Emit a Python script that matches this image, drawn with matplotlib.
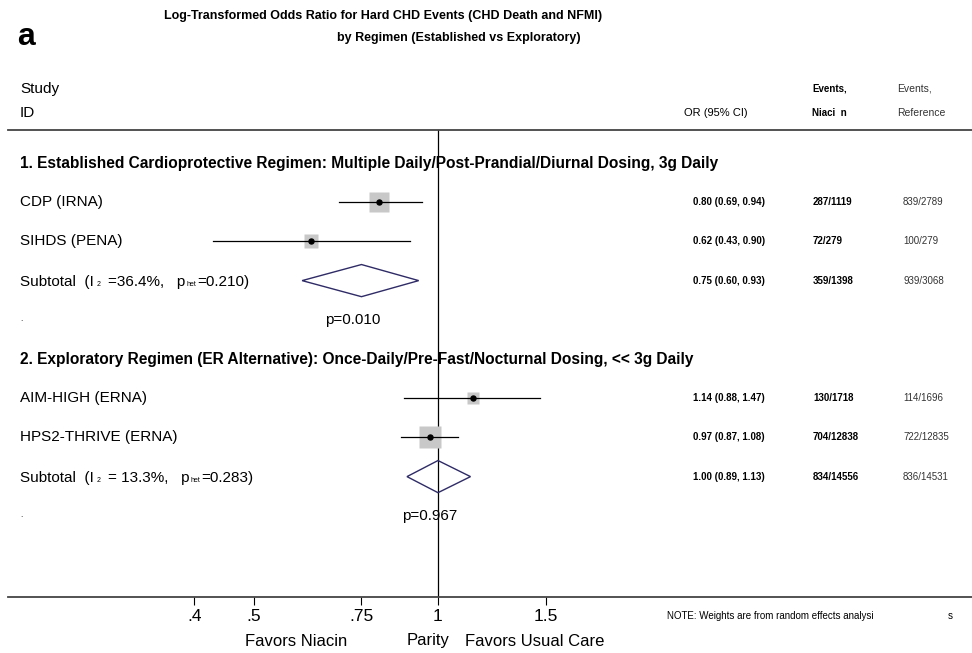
import matplotlib
matplotlib.use("Agg")
import matplotlib.pyplot as plt
from matplotlib import transforms, font_manager
from matplotlib.ticker import NullLocator

# --- data ---
groups = ["1. Established Cardioprotective Regimen: Multiple Daily/Post-Prandial/Diurnal Dosing, 3g Daily",
          "2. Exploratory Regimen (ER Alternative): Once-Daily/Pre-Fast/Nocturnal Dosing, << 3g Daily"]
studies = ["CDP (IRNA)", "SIHDS (PENA)", "AIM-HIGH (ERNA)", "HPS2-THRIVE (ERNA)"]
study_group = [0, 0, 1, 1]
or_est = [0.80, 0.62, 1.14, 0.97]
or_lo = [0.69, 0.43, 0.88, 0.87]
or_hi = [0.94, 0.90, 1.47, 1.08]
weights = [33.7, 15.0, 11.0, 40.3]
ev_niacin = ["287/1119", "72/279", "130/1718", "704/12838"]
ev_ref = ["839/2789", "100/279", "114/1696", "722/12835"]

sub_est = [0.75, 1.00]
sub_lo = [0.60, 0.89]
sub_hi = [0.93, 1.13]
sub_ev_niacin = ["359/1398", "834/14556"]
sub_ev_ref = ["939/3068", "836/14531"]
sub_i2 = ["=36.4%", "= 13.3%"]
sub_phet = ["0.210", "0.283"]
sub_p = ["0.010", "0.967"]

ticks = [0.4, 0.5, 0.75, 1, 1.5]
tick_labels = [".4", ".5", ".75", "1", "1.5"]

W, H = 972, 653
plt.rcParams['font.family'] = ['Liberation Sans', 'DejaVu Sans']
names = {f.name for f in font_manager.fontManager.ttflist}
narrow = "Liberation Sans Narrow" in names
title_font = ['Liberation Sans Narrow' if narrow else 'Liberation Sans', 'DejaVu Sans']

fig = plt.figure(figsize=(W / 100, H / 100), dpi=100)
ax = fig.add_axes([8 / W, 1 - 597 / H, 1 - 8 / W, (597 - 130) / H])
ax.set_xscale('log')
ax.set_xlim(0.1986, 7.445)
ax.set_ylim(11.071, -0.842)


def fx(px):
    # pixel column -> axes fraction
    return (px - 8) / 964


row_tr = transforms.blended_transform_factory(ax.transAxes, ax.transData)
col_or, col_ni, col_ref, col_lab = fx(693), fx(813), fx(903), fx(20)

# header
ax.text(col_lab, -1.888, "Study", fontsize=11, va='center', transform=row_tr)
ax.text(col_lab, -1.276, "ID", fontsize=11, va='center', transform=row_tr)
ax.text(fx(684), -1.276, "OR (95% CI)", fontsize=8, va='center', transform=row_tr)
ax.text(fx(812), -1.888, "Events,", fontsize=7, fontweight='bold', va='center', transform=row_tr)
ax.text(fx(812), -1.276, "Niaci  n", fontsize=7, fontweight='bold', va='center', transform=row_tr)
ax.text(fx(897), -1.888, "Events,", fontsize=7.5, va='center', color='#333333', transform=row_tr)
ax.text(fx(897), -1.276, "Reference", fontsize=7.5, va='center', color='#333333', transform=row_tr)

renderer = fig.canvas.get_renderer()


def chain(y, pieces):
    dx = 0
    for s, size, gap in pieces:
        tr = transforms.offset_copy(row_tr, fig=fig, x=dx, y=-5.4, units='dots')
        t = ax.text(col_lab, y, s, fontsize=size, va='baseline', transform=tr)
        dx += t.get_window_extent(renderer=renderer).width + gap


def ci_text(y, e, lo, hi, ni, ref):
    ax.text(col_or, y, f"{e:.2f} ({lo:.2f}, {hi:.2f})", fontsize=7, fontweight='bold',
            va='center', transform=row_tr)
    ax.text(col_ni, y, ni, fontsize=7, fontweight='bold', va='center', transform=row_tr)
    ax.text(col_ref, y, ref, fontsize=7, va='center', color='#333333', transform=row_tr)


row = 0
for g in range(len(groups)):
    ax.text(col_lab, row, groups[g], fontsize=11.2, fontweight='bold', va='center', transform=row_tr)
    row += 1
    for i in range(len(studies)):
        if study_group[i] != g:
            continue
        ax.text(col_lab, row, studies[i], fontsize=11, va='center', transform=row_tr)
        ax.plot([or_lo[i], or_hi[i]], [row, row], color='black', lw=0.9, zorder=3)
        ax.plot(or_est[i], row, marker='s', ms=2.6 * weights[i] ** 0.5, color='#c8c8c8',
                mec='none', zorder=2)
        ax.plot(or_est[i], row, marker='o', ms=3.6, color='black', zorder=4)
        ci_text(row, or_est[i], or_lo[i], or_hi[i], ev_niacin[i], ev_ref[i])
        row += 1
    # subtotal
    chain(row, [("Subtotal  (I", 11, 3), ("2", 5, 7), (sub_i2[g] + ",   p", 11, 1),
                ("het", 5, 1), ("=" + sub_phet[g] + ")", 11, 0)])
    h = 0.41
    ax.fill([sub_lo[g], sub_est[g], sub_hi[g], sub_est[g]], [row, row - h, row, row + h],
            facecolor='none', edgecolor='#2e2b66', lw=1.0, zorder=3)
    ci_text(row, sub_est[g], sub_lo[g], sub_hi[g], sub_ev_niacin[g], sub_ev_ref[g])
    row += 1
    ax.text(col_lab, row, ".", fontsize=6, va='center', transform=row_tr)
    ax.annotate("p=" + sub_p[g], (sub_est[g], row), xytext=(-6, 0), textcoords='offset points',
                ha='center', va='center', fontsize=11)
    row += 1

ax.axvline(1, color='black', lw=0.9, zorder=1)

ax.set_xticks(ticks)
ax.set_xticklabels(tick_labels)
ax.xaxis.set_minor_locator(NullLocator())
ax.tick_params(axis='x', direction='out', length=5.8, width=0.8, pad=3, labelsize=12.5)
ax.set_yticks([])
for s in ['left', 'right']:
    ax.spines[s].set_visible(False)
for s in ['top', 'bottom']:
    ax.spines[s].set_linewidth(1.3)
    ax.spines[s].set_color('#444444')

# axis captions and note
fig.text(296 / W, 1 - 641 / H, "Favors Niacin", ha='center', va='center', fontsize=12)
fig.text(428 / W, 1 - 641 / H, "Parity", ha='center', va='center', fontsize=12)
fig.text(535 / W, 1 - 641 / H, "Favors Usual Care", ha='center', va='center', fontsize=12)
fig.text(667 / W, 1 - 616 / H, "NOTE: Weights are from random effects analysi", va='center', fontsize=7)
fig.text(948 / W, 1 - 616 / H, "s", va='center', fontsize=7)

# title
tsize = 11 if narrow else 9
fig.text(383 / W, 1 - 16 / H, "Log-Transformed Odds Ratio for Hard CHD Events (CHD Death and NFMI)",
         ha='center', va='center', fontsize=tsize, fontweight='bold', family=title_font)
fig.text(459 / W, 1 - 38 / H, "by Regimen (Established vs Exploratory)",
         ha='center', va='center', fontsize=tsize, fontweight='bold', family=title_font)
fig.text(17 / W, 1 - 37 / H, "a", ha='left', va='center', fontsize=28 if narrow else 23,
         fontweight='bold', family=title_font)

fig.savefig("out.png", dpi=100)
